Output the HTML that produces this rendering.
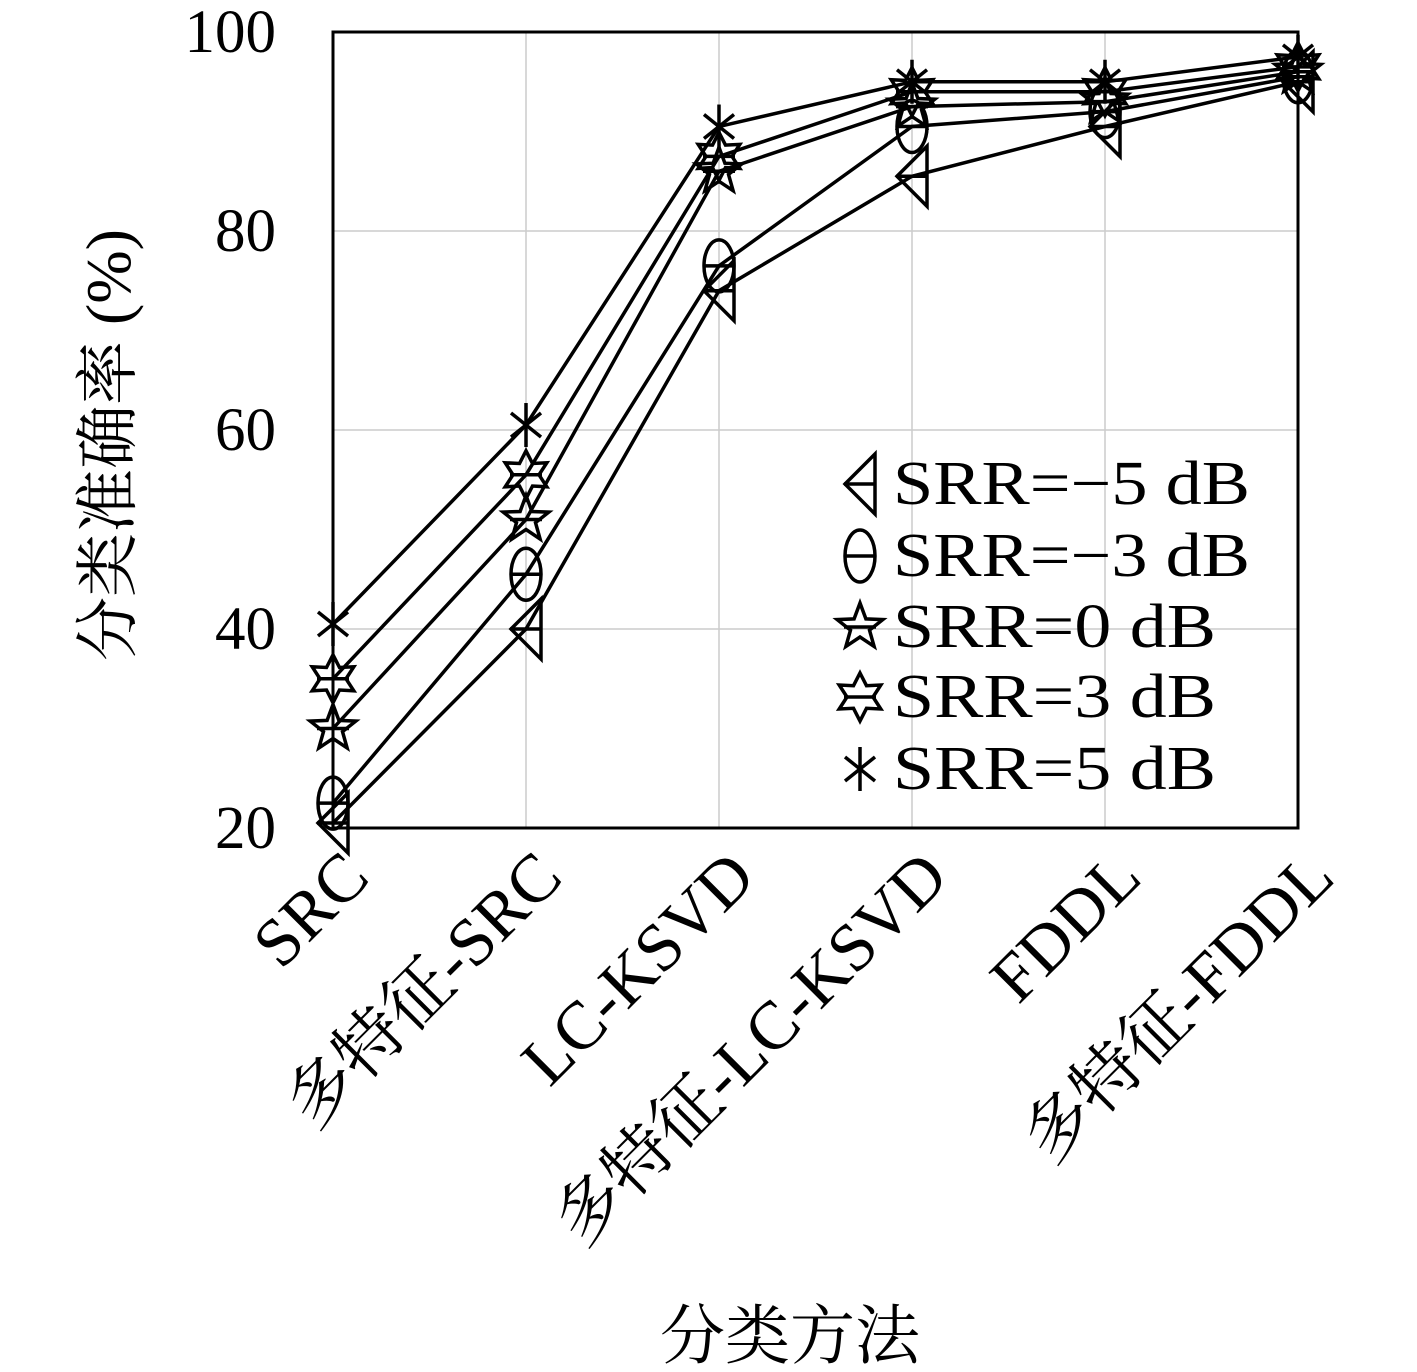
<!DOCTYPE html>
<html><head><meta charset="utf-8"><style>body{margin:0;background:#fff}svg{display:block}</style></head>
<body>
<svg id="s" width="1417" height="1372" xmlns="http://www.w3.org/2000/svg" font-family="'Liberation Serif','Noto Serif CJK SC',serif">
<rect width="1417" height="1372" fill="#fff"/>
<g stroke="#ccc" stroke-width="1.5">
<line x1="333" y1="231" x2="1298" y2="231"/><line x1="333" y1="430" x2="1298" y2="430"/><line x1="333" y1="629" x2="1298" y2="629"/>
<line x1="526" y1="32" x2="526" y2="828"/><line x1="719" y1="32" x2="719" y2="828"/><line x1="912" y1="32" x2="912" y2="828"/><line x1="1105" y1="32" x2="1105" y2="828"/>
</g>
<g id="data" fill="none" stroke="#000" stroke-width="3.5"></g>
<rect x="333" y="32" width="965" height="796" fill="none" stroke="#000" stroke-width="3"/>
<g font-size="61" text-anchor="end">
<text x="276" y="52">100</text><text x="276" y="251">80</text><text x="276" y="450">60</text><text x="276" y="649">40</text><text x="276" y="848">20</text>
</g>
<g font-size="68" text-anchor="end">
<text transform="translate(372,880) rotate(-45)">SRC</text>
<text transform="translate(565,880) rotate(-45)">多特征-SRC</text>
<text transform="translate(758,880) rotate(-45)">LC-KSVD</text>
<text transform="translate(951,880) rotate(-45)">多特征-LC-KSVD</text>
<text transform="translate(1144,880) rotate(-45)">FDDL</text>
<text transform="translate(1337,880) rotate(-45)">多特征-FDDL</text>
</g>
<text x="790" y="1358" font-size="65" text-anchor="middle">分类方法</text>
<text transform="translate(130,445) rotate(-90)" font-size="64" text-anchor="middle">分类准确率 (%)</text>
<g font-size="62">
<text x="893" y="504" textLength="357" lengthAdjust="spacingAndGlyphs">SRR=−5 dB</text>
<text x="893" y="576" textLength="357" lengthAdjust="spacingAndGlyphs">SRR=−3 dB</text>
<text x="893" y="647" textLength="323" lengthAdjust="spacingAndGlyphs">SRR=0 dB</text>
<text x="893" y="717" textLength="323" lengthAdjust="spacingAndGlyphs">SRR=3 dB</text>
<text x="893" y="789" textLength="323" lengthAdjust="spacingAndGlyphs">SRR=5 dB</text>
</g>
<g id="leg" fill="none" stroke="#000" stroke-width="3.5"></g>
</svg>
<script>
var X=[333,526,719,912,1105,1298];
var D=[[20.5,40,74,85.5,90.5,95],[22.5,45.5,76.5,90.5,92,95.5],[30,51,86,92.5,93,96],[35,55.5,87.5,94,94,96.5],[40.5,60.5,90.5,95,95,97.5]];
function Y(v){return 828-(v-20)*9.95;}
function star(cx,cy,n,ro,ri){var p=[];for(var i=0;i<2*n;i++){var r=i%2?ri:ro,a=-Math.PI/2+i*Math.PI/n;p.push((cx+r*Math.cos(a)).toFixed(1)+','+(cy+r*Math.sin(a)).toFixed(1));}return '<polygon points="'+p.join(' ')+'"/>';}
function mk(t,x,y){
 var h='<line x1="'+(x-16)+'" y1="'+y+'" x2="'+(x+16)+'" y2="'+y+'"/>';
 if(t==0)return h+'<polygon points="'+(x-15)+','+y+' '+(x+15)+','+(y-30)+' '+(x+15)+','+(y+30)+'"/>';
 if(t==1)return h+'<ellipse cx="'+x+'" cy="'+y+'" rx="15" ry="26"/>';
 if(t==2)return h+star(x,y,5,24,10);
 if(t==3)return h+star(x,y,6,24,13);
 return '<line x1="'+x+'" y1="'+(y-22)+'" x2="'+x+'" y2="'+(y+22)+'"/><line x1="'+(x-15)+'" y1="'+(y-12)+'" x2="'+(x+15)+'" y2="'+(y+12)+'"/><line x1="'+(x-15)+'" y1="'+(y+12)+'" x2="'+(x+15)+'" y2="'+(y-12)+'"/>';
}
var s='';
for(var k=0;k<5;k++){var p=[];for(var i=0;i<6;i++)p.push(X[i]+','+Y(D[k][i]).toFixed(1));s+='<polyline points="'+p.join(' ')+'"/>';for(var i=0;i<6;i++)s+=mk(k,X[i],Y(D[k][i]));}
document.getElementById('data').innerHTML=s;
var l='',LY=[484,556,627,697,769];for(var k=0;k<5;k++)l+=mk(k,860,LY[k]);
document.getElementById('leg').innerHTML=l;
</script>
</body></html>
